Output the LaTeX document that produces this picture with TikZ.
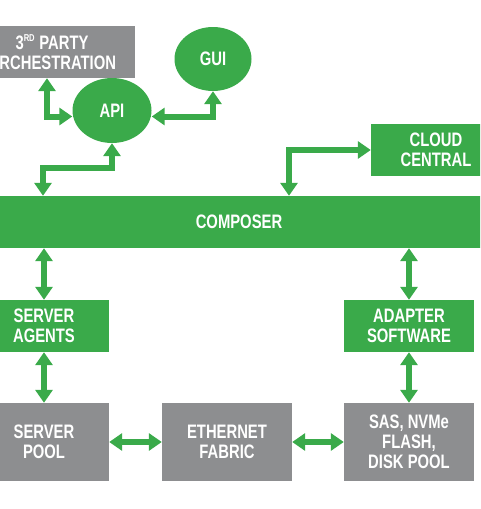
\documentclass[tikz,border=0pt]{standalone}
\usepackage{fontspec}
\setmainfont{Liberation Sans}[FakeStretch=0.76]
\usetikzlibrary{arrows.meta,shapes.geometric}
\definecolor{hpgreen}{RGB}{58,170,74}
\definecolor{hpgray}{RGB}{141,142,144}
\tikzset{
  lbl/.style={text=white,font=\fontsize{19.5}{20}\selectfont\bfseries,align=center,inner sep=0pt},
  gbox/.style={lbl,fill=hpgreen,minimum width=130pt,minimum height=52pt},
  ybox/.style={lbl,fill=hpgray,minimum width=130pt,minimum height=78pt},
  oval/.style={lbl,ellipse,fill=hpgreen,inner sep=0pt},
  arr/.style={draw=hpgreen,line width=6pt,
    {Triangle[width=17pt,length=13pt]}-{Triangle[width=17pt,length=13pt]}},
}
\begin{document}
\begin{tikzpicture}[x=1pt,y=-1pt]
\useasboundingbox (0,0) rectangle (480,509);
\begin{scope}
\clip (0,0) rectangle (480,509);
\node[lbl,fill=hpgray,minimum width=166pt,minimum height=52pt] (orch) at (52,52) {3\textsuperscript{\fontsize{10}{10}\selectfont RD} PARTY\\ORCHESTRATION};
\node[oval,minimum width=77pt,minimum height=64pt] (gui) at (213,59) {GUI};
\node[oval,minimum width=79pt,minimum height=65pt] (api) at (112,110.5) {API};
\node[gbox] (cloud) at (436,150) {CLOUD\\CENTRAL};
\node[lbl,fill=hpgreen,minimum width=520pt,minimum height=52pt] (comp) at (239,222) {COMPOSER};
\node[gbox] (agents) at (44,326) {SERVER\\AGENTS};
\node[gbox] (adapter) at (409,326) {ADAPTER\\SOFTWARE};
\node[ybox] (pool) at (44,442) {SERVER\\POOL};
\node[ybox] (eth) at (227,442) {ETHERNET\\FABRIC};
\node[ybox] (sas) at (409,442) {SAS, NVMe\\FLASH,\\DISK POOL};
\end{scope}
\draw[arr] ([xshift=-5pt]orch.south) |- ([yshift=-6pt]api.west);
\draw[arr] ([yshift=-6pt]api.east) -| (gui.south);
\draw[arr] (api.south) -- (api.south |- 0,168) -| (comp.north -| 43,0);
\draw[arr] (comp.north -| 289,0) |- (cloud.west);
\draw[arr] (comp.south -| agents.north) -- (agents.north);
\draw[arr] (agents.south) -- (pool.north);
\draw[arr] (comp.south -| adapter.north) -- (adapter.north);
\draw[arr] (adapter.south) -- (sas.north);
\draw[arr] (pool.east) -- (eth.west);
\draw[arr] (eth.east) -- (sas.west);
\end{tikzpicture}
\end{document}
